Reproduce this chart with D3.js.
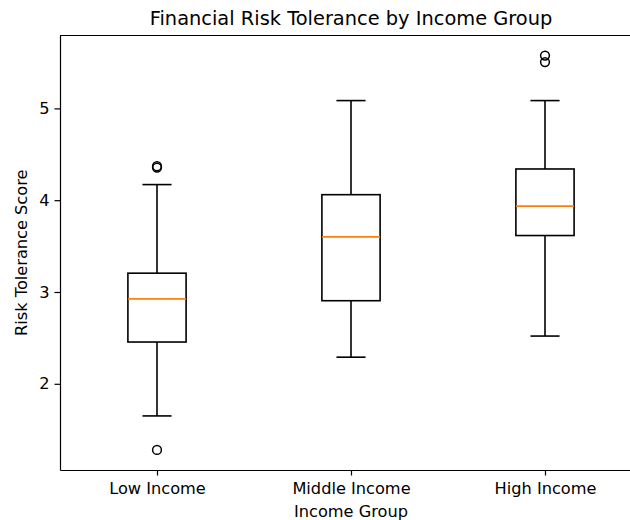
<!DOCTYPE html>
<meta charset="utf-8">
<style>
  body { margin: 0; background: #fff; }
  svg text { font-family: "DejaVu Sans", sans-serif; fill: #000; }
  .axis path, .axis line { stroke: #000; }
</style>
<body>
<div id="chart"></div>
<script src="https://d3js.org/d3.v7.min.js"></script>
<script>
// box summaries
var groups      = ["Low Income", "Middle Income", "High Income"];
var whiskerLow  = [1.65, 2.29, 2.52];
var q1          = [2.455, 2.905, 3.615];
var medians     = [2.925, 3.60, 3.935];
var q3          = [3.205, 4.06, 4.34];
var whiskerHigh = [4.17, 5.085, 5.085];
var outliers    = [[1.28, 4.355, 4.37], [], [5.505, 5.575]];
var yTicks      = [2, 3, 4, 5];

var width = 630, height = 520;
var margin = {top: 35.5, right: -12, bottom: 50, left: 60};
var fs = 16.2;   // tick / label font size

var svg = d3.select("#chart")
            .append("svg")
            .attr("width", width)
            .attr("height", height);

var x = d3.scaleLinear()
    .domain([0.5, 3.5])
    .range([margin.left, width - margin.right]);

var y = d3.scaleLinear()
    .domain([1.061, 5.794])
    .range([height - margin.bottom, margin.top]);

var boxW = x(0.3) - x(0);   // matplotlib default width 0.3
var capW = boxW / 2;

var data = groups.map(function(g, i) {
  return {name: g, pos: i + 1, lo: whiskerLow[i], q1: q1[i], med: medians[i],
          q3: q3[i], hi: whiskerHigh[i], out: outliers[i]};
});

// axes
var xAxis = d3.axisBottom(x)
    .tickValues([1, 2, 3])
    .tickFormat(function(d) { return groups[d - 1]; })
    .tickSize(5.5).tickPadding(7).tickSizeOuter(0);

var yAxis = d3.axisLeft(y)
    .tickValues(yTicks)
    .tickFormat(d3.format("d"))
    .tickSize(5.5).tickPadding(5).tickSizeOuter(0);

var gx = svg.append("g")
    .attr("class", "axis")
    .attr("transform", "translate(0," + y.range()[0] + ")")
    .call(xAxis);
var gy = svg.append("g")
    .attr("class", "axis")
    .attr("transform", "translate(" + margin.left + ",0)")
    .call(yAxis);
[gx, gy].forEach(function(g) {
  g.selectAll("text").style("font-size", fs + "px").style("fill", "#000")
    .style("font-family", "'DejaVu Sans', sans-serif");
  g.selectAll("line").attr("stroke-width", 1.2);
  g.select(".domain").attr("stroke-width", 1.2);
});

// top spine (right spine falls outside the picture)
svg.append("line")
    .attr("x1", margin.left).attr("x2", width)
    .attr("y1", y.range()[1]).attr("y2", y.range()[1])
    .attr("stroke", "#000").attr("stroke-width", 1.2);

var box = svg.append("g").selectAll("g")
    .data(data)
  .enter().append("g");

// whiskers
box.append("line")
    .attr("x1", function(d) { return x(d.pos); })
    .attr("x2", function(d) { return x(d.pos); })
    .attr("y1", function(d) { return y(d.q1); })
    .attr("y2", function(d) { return y(d.lo); })
    .attr("stroke", "#000").attr("stroke-width", 1.6);
box.append("line")
    .attr("x1", function(d) { return x(d.pos); })
    .attr("x2", function(d) { return x(d.pos); })
    .attr("y1", function(d) { return y(d.q3); })
    .attr("y2", function(d) { return y(d.hi); })
    .attr("stroke", "#000").attr("stroke-width", 1.6);

// caps
["lo", "hi"].forEach(function(k) {
  box.append("line")
      .attr("x1", function(d) { return x(d.pos) - capW / 2; })
      .attr("x2", function(d) { return x(d.pos) + capW / 2; })
      .attr("y1", function(d) { return y(d[k]); })
      .attr("y2", function(d) { return y(d[k]); })
      .attr("stroke", "#000").attr("stroke-width", 1.6);
});

// boxes
box.append("rect")
    .attr("x", function(d) { return x(d.pos) - boxW / 2; })
    .attr("y", function(d) { return y(d.q3); })
    .attr("width", boxW)
    .attr("height", function(d) { return y(d.q1) - y(d.q3); })
    .attr("fill", "none")
    .attr("stroke", "#000").attr("stroke-width", 1.6);

// medians
box.append("line")
    .attr("x1", function(d) { return x(d.pos) - boxW / 2; })
    .attr("x2", function(d) { return x(d.pos) + boxW / 2; })
    .attr("y1", function(d) { return y(d.med); })
    .attr("y2", function(d) { return y(d.med); })
    .attr("stroke", "#ff7f0e").attr("stroke-width", 1.6);

// fliers
box.selectAll("circle")
    .data(function(d) { return d.out.map(function(v) { return {pos: d.pos, v: v}; }); })
  .enter().append("circle")
    .attr("cx", function(d) { return x(d.pos); })
    .attr("cy", function(d) { return y(d.v); })
    .attr("r", 4.4)
    .attr("fill", "none")
    .attr("stroke", "#000").attr("stroke-width", 1.5);

// labels
svg.append("text")
    .attr("x", x(2)).attr("y", 25)
    .attr("text-anchor", "middle")
    .style("font-size", "19.4px")
    .text("Financial Risk Tolerance by Income Group");

svg.append("text")
    .attr("x", x(2)).attr("y", 517)
    .attr("text-anchor", "middle")
    .style("font-size", fs + "px")
    .text("Income Group");

svg.append("text")
    .attr("transform", "translate(27," + ((y.range()[0] + y.range()[1]) / 2) + ") rotate(-90)")
    .attr("text-anchor", "middle")
    .style("font-size", fs + "px")
    .text("Risk Tolerance Score");
</script>
</body>
</html>
